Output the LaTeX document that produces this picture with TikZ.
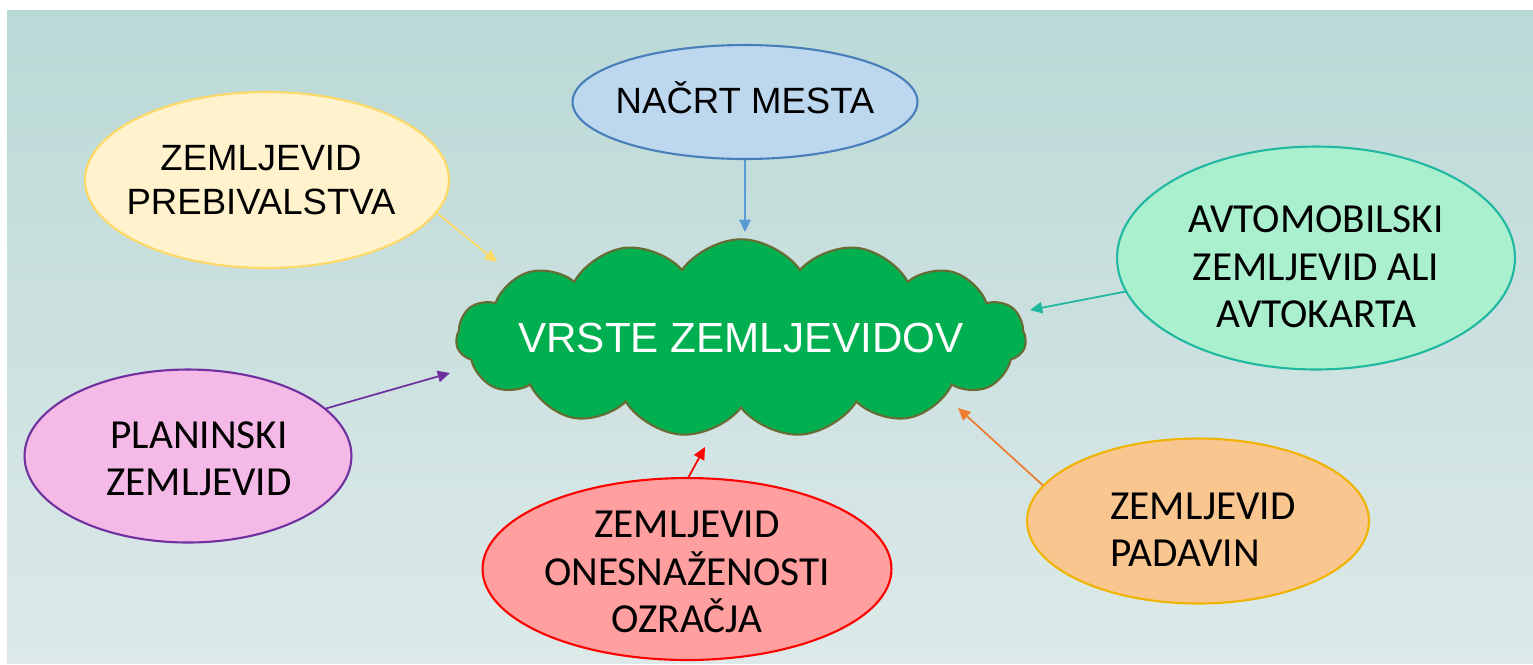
\documentclass[tikz,border=0pt]{standalone}
\usepackage{fontspec}
\setmainfont{Liberation Sans}
\newfontfamily\calibri{Carlito}
\usetikzlibrary{arrows.meta}
\usetikzlibrary{shapes.geometric}
\usetikzlibrary{shapes.symbols}

\definecolor{bgtop}{RGB}{186,217,214}
\definecolor{bgbot}{RGB}{221,233,233}
\definecolor{cloudfill}{RGB}{0,176,80}
\definecolor{cloudline}{RGB}{104,108,52}
\definecolor{bluefill}{RGB}{189,215,238}
\definecolor{blueline}{RGB}{74,126,187}
\definecolor{bluearrow}{RGB}{91,155,213}
\definecolor{creamfill}{RGB}{255,242,204}
\definecolor{creamline}{RGB}{255,217,102}
\definecolor{mintfill}{RGB}{170,240,206}
\definecolor{mintline}{RGB}{32,184,160}
\definecolor{pinkfill}{RGB}{244,185,230}
\definecolor{pinkline}{RGB}{112,48,160}
\definecolor{redfill}{RGB}{255,159,159}
\definecolor{redline}{RGB}{255,0,0}
\definecolor{orangefill}{RGB}{250,198,143}
\definecolor{orangeline}{RGB}{240,180,0}
\definecolor{orangearrow}{RGB}{237,125,49}

\begin{document}
\begin{tikzpicture}[
		x=0.02cm, y=-0.02cm,
		bubble/.style={ellipse, draw, line width=1.2pt, inner sep=0pt},
		caltxt/.style={align=center, font=\calibri\fontsize{23.5}{27}\selectfont},
		arltxt/.style={align=center, font=\fontsize{20.8}{25.5}\selectfont},
		link/.style={-{Triangle[length=7pt,width=6.5pt]}, line width=1pt}
	]
	\useasboundingbox (0,0) rectangle (1533,664);
	\shade[top color=bgtop, bottom color=bgbot] (7,10) rectangle (1533,663);

	% centre
	\node[cloud, cloud puffs=15, cloud puff arc=110, cloud ignores aspect, minimum width=11.4cm, minimum height=3.95cm,
		fill=cloudfill, draw=cloudline, line width=1.2pt,
		label={[name=vrste-txt, text=white, font=\fontsize{24}{28}\selectfont]center:VRSTE ZEMLJEVIDOV}] (vrste) at (741,338) {};

	% types of maps
	\node[bubble, fill=bluefill, draw=blueline, minimum width=6.9cm, minimum height=2.28cm,
		label={[arltxt, name=nacrt-txt, yshift=0.08cm]center:NAČRT MESTA}] (nacrt) at (745,102) {};
	\node[bubble, fill=creamfill, draw=creamline, minimum width=7.28cm, minimum height=3.52cm,
		label={[arltxt, name=preb-txt, xshift=-0.12cm]center:{ZEMLJEVID\\PREBIVALSTVA}}] (preb) at (267,180) {};
	\node[bubble, fill=mintfill, draw=mintline, minimum width=7.96cm, minimum height=4.46cm,
		label={[caltxt, name=avto-txt, yshift=-0.18cm]center:{AVTOMOBILSKI\\ZEMLJEVID ALI\\AVTOKARTA}}] (avto) at (1316,258) {};
	\node[bubble, fill=pinkfill, draw=pinkline, minimum width=6.54cm, minimum height=3.46cm,
		label={[caltxt, name=plan-txt, xshift=0.22cm, yshift=-0.06cm]center:{PLANINSKI\\ZEMLJEVID}}] (plan) at (188,456) {};
	\node[bubble, fill=redfill, draw=redline, minimum width=8.18cm, minimum height=3.64cm,
		label={[caltxt, name=ones-txt, yshift=-0.06cm]center:{ZEMLJEVID\\ONESNAŽENOSTI\\OZRAČJA}}] (ones) at (687,569) {};
	\node[bubble, fill=orangefill, draw=orangeline, minimum width=6.84cm, minimum height=3.3cm,
		label={[caltxt, align=left, name=pada-txt, xshift=0.1cm, yshift=-0.18cm]center:{ZEMLJEVID\\PADAVIN}}] (pada) at (1198,521) {};

	% arrow tips
	\coordinate (tip-nacrt) at (745,232);
	\coordinate (tip-preb) at (497,262);
	\coordinate (tip-avto) at (1030,310);
	\coordinate (tip-plan) at (450,373);
	\coordinate (tip-ones) at (705,447);
	\coordinate (tip-pada) at (958,408);

	\draw[link, bluearrow] (nacrt.south) -- (tip-nacrt);
	\draw[link, creamline] (preb.-11) -- (tip-preb);
	\draw[link, mintline] (avto.190) -- (tip-avto);
	\draw[link, pinkline] (plan.19) -- (tip-plan);
	\draw[link, redline] (ones.89) -- (tip-ones);
	\draw[link, orangearrow] (pada.167) -- (tip-pada);
\end{tikzpicture}
\end{document}
